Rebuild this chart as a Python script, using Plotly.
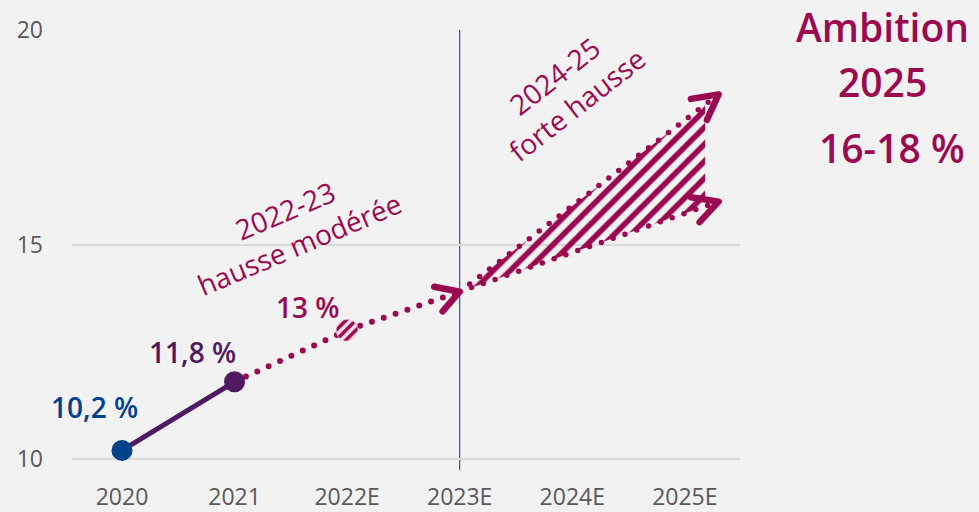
import numpy as np
import plotly.graph_objects as go

# ---- data -------------------------------------------------------------
years = ["2020", "2021", "2022E", "2023E", "2024E", "2025E"]
year_pos = [0, 1, 2, 3, 4, 5]

actual_x = [0, 1]
actual_values = [10.2, 11.8]
actual_labels = ["10,2 %", "11,8 %"]

trend_x = [1, 2, 3]
trend_values = [11.8, 13.0, 13.9]
forecast_2022_label = "13 %"

fan_start_x = 3
fan_start_value = 13.9
fan_end_x = 5.3
fan_low_end = 16.0
fan_high_end = 18.5
fan_fill_edge_x = 5.18

y_ticks = [10, 15, 20]

phase1_text = "2022-23<br>hausse modérée"
phase2_text = "2024-25<br>forte hausse"
ambition_lines = ["Ambition", "2025", "16-18 %"]

# ---- style ------------------------------------------------------------
BLUE = "#00438c"
PURPLE = "#4f1a63"
MAGENTA = "#9b0a50"
GRID = "#d9d9d9"
TICK = "#595959"
BG = "#f2f2f2"
VLINE = "#2f4f8f"
FONT = "Open Sans"

W, H = 979, 512
ML, MR, MT, MB = 72, 239, 30, 42
XR = [-0.444, 5.49]
YR = [9.744, 20]
px_x = (W - ML - MR) / (XR[1] - XR[0])
px_y = (H - MT - MB) / (YR[1] - YR[0])


def chevron(x0, y0, x1, y1, length=26, half_angle=30):
    """Open arrow head at (x1, y1) for a segment coming from (x0, y0)."""
    ang = np.arctan2((y1 - y0) * px_y, (x1 - x0) * px_x)
    back = ang + np.pi
    h = np.radians(half_angle)
    xs, ys = [], []
    for a in (back + h, None, back - h):
        if a is None:
            xs.append(x1)
            ys.append(y1)
        else:
            xs.append(x1 + length * np.cos(a) / px_x)
            ys.append(y1 + length * np.sin(a) / px_y)
    return xs, ys


def line_at(x, x_end, y_end):
    t = (x - fan_start_x) / (x_end - fan_start_x)
    return fan_start_value + t * (y_end - fan_start_value)


DOTS = "0px,12.5px"
fig = go.Figure()

# hatched range of the 2024-25 ambition
edge_hi = line_at(fan_fill_edge_x, fan_end_x, fan_high_end)
edge_lo = line_at(fan_fill_edge_x, fan_end_x, fan_low_end)
fig.add_trace(go.Scatter(
    x=[fan_start_x, fan_fill_edge_x, fan_fill_edge_x, fan_start_x],
    y=[fan_start_value, edge_hi, edge_lo, fan_start_value],
    mode="lines", fill="toself", line=dict(width=0, color=MAGENTA),
    fillcolor="rgba(0,0,0,0)",
    fillpattern=dict(shape="/", fgcolor=MAGENTA, fgopacity=1,
                     bgcolor="rgba(0,0,0,0)", size=12, solidity=0.47),
    showlegend=False, hoverinfo="skip"))

# dotted trend 2021 -> 2023E
fig.add_trace(go.Scatter(x=trend_x, y=trend_values, mode="lines",
                         line=dict(color=MAGENTA, width=6, dash=DOTS),
                         showlegend=False, hoverinfo="skip"))
cx, cy = chevron(trend_x[-2], trend_values[-2], trend_x[-1], trend_values[-1])
fig.add_trace(go.Scatter(x=cx, y=cy, mode="lines",
                         line=dict(color=MAGENTA, width=6.5),
                         showlegend=False, hoverinfo="skip"))

# dotted fan lines towards 2025E
for end_val in (fan_high_end, fan_low_end):
    fig.add_trace(go.Scatter(x=[fan_start_x, fan_end_x], y=[fan_start_value, end_val],
                             mode="lines", line=dict(color=MAGENTA, width=5.5, dash=DOTS),
                             showlegend=False, hoverinfo="skip"))
    cx, cy = chevron(fan_start_x, fan_start_value, fan_end_x, end_val, length=28, half_angle=28)
    fig.add_trace(go.Scatter(x=cx, y=cy, mode="lines",
                             line=dict(color=MAGENTA, width=6.5),
                             showlegend=False, hoverinfo="skip"))

# hatched 2022E estimate marker
theta = np.linspace(0, 2 * np.pi, 64)
r = 11
fig.add_trace(go.Scatter(
    x=trend_x[1] + r * np.cos(theta) / px_x,
    y=trend_values[1] + r * np.sin(theta) / px_y,
    mode="lines", fill="toself", line=dict(width=0.5, color="#f6dde8"),
    fillcolor="#f6dde8",
    fillpattern=dict(shape="/", fgcolor=MAGENTA, fgopacity=1,
                     size=7, solidity=0.5),
    showlegend=False, hoverinfo="skip"))

# actual values 2020-2021
fig.add_trace(go.Scatter(x=actual_x, y=actual_values, mode="lines",
                         line=dict(color=PURPLE, width=5),
                         showlegend=False, hoverinfo="skip"))
fig.add_trace(go.Scatter(x=actual_x, y=actual_values, mode="markers",
                         marker=dict(size=21, color=[BLUE, PURPLE]),
                         showlegend=False, hoverinfo="skip"))

# 2023E divider
fig.add_shape(type="line", x0=3, x1=3, xref="x", y0=0, y1=1, yref="paper",
              line=dict(color=VLINE, width=1.2), layer="below")

# value labels
label_specs = [
    (actual_x[0], actual_values[0], actual_labels[0], BLUE, -27, 43),
    (actual_x[1], actual_values[1], actual_labels[1], PURPLE, -42, 30),
    (trend_x[1], trend_values[1], forecast_2022_label, MAGENTA, -40, 23),
]
for x, y, txt, col, dx, dy in label_specs:
    fig.add_annotation(x=x, y=y, text=txt, showarrow=False, xshift=dx, yshift=dy,
                       font=dict(family=FONT, size=28, color=col, weight=600))

fig.add_annotation(x=1.51, y=15.41, text=phase1_text, showarrow=False, textangle=-23,
                   font=dict(family=FONT, size=28, color=MAGENTA))
fig.add_annotation(x=3.94, y=18.6, text=phase2_text, showarrow=False, textangle=-38,
                   font=dict(family=FONT, size=28, color=MAGENTA))

for txt, xp, yp in zip(ambition_lines, [1.214, 1.214, 1.227], [1.007, 0.882, 0.732]):
    fig.add_annotation(x=xp, y=yp, xref="paper", yref="paper", text=txt,
                       showarrow=False, xanchor="center", yanchor="middle",
                       font=dict(family=FONT, size=39, color=MAGENTA, weight=600))

fig.update_layout(
    width=W, height=H,
    margin=dict(l=ML, r=MR, t=MT, b=MB, autoexpand=False),
    paper_bgcolor=BG, plot_bgcolor=BG,
    hovermode=False, showlegend=False,
    xaxis=dict(range=XR, tickmode="array", tickvals=year_pos, ticktext=years,
               showgrid=False, zeroline=False, showline=False, ticks="",
               automargin=False, ticklabelstandoff=11,
               tickfont=dict(family=FONT, size=23, color=TICK)),
    yaxis=dict(range=YR, tickmode="array", tickvals=y_ticks,
               showgrid=True, gridcolor=GRID, gridwidth=1.5,
               zeroline=False, showline=False, ticks="",
               automargin=False, ticklabelstandoff=28,
               tickfont=dict(family=FONT, size=23, color=TICK)),
)

post = """
var gd = document.getElementById('{plot_id}');
gd.querySelectorAll('.scatterlayer .js-line').forEach(function(p){
  p.style.strokeLinecap = 'round';
  p.style.strokeLinejoin = 'round';
});
"""
fig.write_html("out.html", post_script=post)
